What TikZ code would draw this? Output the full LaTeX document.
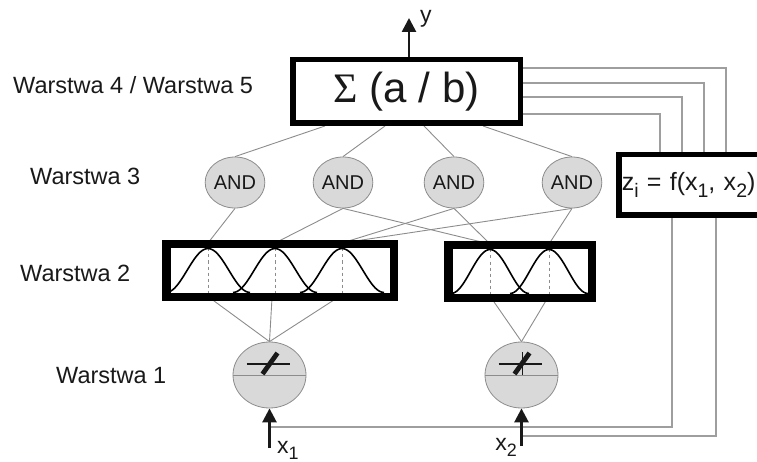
\documentclass[tikz,border=0pt]{standalone}
\usepackage{fontspec}
\usepackage{graphicx}
\setmainfont{Liberation Sans}
\newfontfamily\sigmafont{Liberation Serif}
\usetikzlibrary{shapes.geometric,arrows.meta}

\definecolor{wire}{gray}{0.55}
\definecolor{loopgray}{gray}{0.62}
\definecolor{cellfill}{gray}{0.85}
\definecolor{celledge}{gray}{0.55}
\definecolor{ink}{gray}{0.1}

\newcommand\lowsub[1]{\raisebox{-0.28em}{\scalebox{0.78}{#1}}}

\pgfdeclarelayer{bg}
\pgfsetlayers{bg,main}

\tikzset{
  wire/.style={draw=wire, line width=0.9pt},
  loopwire/.style={draw=loopgray, line width=1.2pt},
  heavybox/.style={rectangle, draw=black, line width=5.5pt, fill=white, inner sep=0pt},
  andcell/.style={ellipse, draw=celledge, fill=cellfill, line width=0.8pt,
    minimum width=57pt, minimum height=51pt, inner sep=0pt,
    font=\fontsize{20}{22}\selectfont},
  incell/.style={ellipse, draw=celledge, fill=cellfill, line width=0.8pt,
    minimum width=73pt, minimum height=66pt, inner sep=0pt},
  layerlab/.style={anchor=west, inner sep=0pt, font=\fontsize{23.5}{26}\selectfont},
  sigarrow/.style={-{Triangle[length=14pt,width=14pt]}, line width=2.6pt, draw=ink},
  mfcurve/.style={draw=black, line width=1.6pt},
  iolab/.style={inner sep=0pt, font=\fontsize{23}{25}\selectfont},
}

\begin{document}
\begin{tikzpicture}[x=1pt, y=-1pt, text=ink]
\clip (0,0) rectangle (757,462);

% layer names
\node[layerlab] (lab45) at (13,85) {Warstwa 4 / Warstwa 5};
\node[layerlab] (lab3) at (30,176) {Warstwa 3};
\node[layerlab] (lab2) at (20,273) {Warstwa 2};
\node[layerlab] (lab1) at (56,376) {Warstwa 1};

% layers 4/5 and the z box
\node[heavybox, minimum width=227.5pt, minimum height=63.5pt,
  font=\fontsize{42}{44}\selectfont] (sum) at (406.5,91.5) {{\sigmafont Σ} (a / b)};
\node[heavybox, anchor=west, minimum height=60.5pt, inner xsep=3pt,
  text width=140pt, align=left, font=\fontsize{25}{27}\selectfont] (zbox) at (616,185)
  {z\lowsub{i} = f(x\lowsub{1}, x\lowsub{2})};

% layer 3
\foreach \n/\x in {1/235,2/343,3/454,4/572}
  \node[andcell] (and\n) at (\x,182.5) {AND};

% layer 2
\node[heavybox, minimum width=224.5pt, minimum height=49.5pt] (mf1) at (280,270.5) {};
\node[heavybox, minimum width=140.5pt, minimum height=49.5pt] (mf2) at (520,271.5) {};
\foreach \c in {208,275,342} {
  \draw[wire, dashed] (\c,248.5) -- (\c,292.5);
  \draw[mfcurve] plot[domain=\c-42:\c+42, samples=40] (\x,{292.5-22*(1+cos(180*(\x-\c)/42))});
}
\foreach \c in {490,549} {
  \draw[wire, dashed] (\c,249.5) -- (\c,293.5);
  \draw[mfcurve] plot[domain=\c-39:\c+39, samples=40] (\x,{293.5-22*(1+cos(180*(\x-\c)/39))});
}
\draw[mfcurve, line width=5.5pt] (mf1.north west) rectangle (mf1.south east);
\draw[mfcurve, line width=5.5pt] (mf2.north west) rectangle (mf2.south east);

% layer 1
\node[incell] (in1) at (269.5,375) {};
\node[incell] (in2) at (521.5,375) {};
\foreach \n in {in1,in2} {
  \draw[celledge, line width=0.8pt] (\n.west) -- (\n.east);
  \draw[ink, line width=1.8pt] ([shift={(-23,-11)}]\n.center) -- ([shift={(20,-11)}]\n.center);
  \draw[ink, line width=4.8pt] ([shift={(-7,-1)}]\n.center) -- ([shift={(8,-22)}]\n.center);
}
\draw[ink, line width=0.8pt] ([shift={(1,-23)}]in2.center) -- ([shift={(1,0)}]in2.center);

% connections
\begin{pgfonlayer}{bg}
\draw[wire] (325,0 |- sum.south) -- (and1.north);
\draw[wire] (385,0 |- sum.south) -- (and2.north);
\draw[wire] (424,0 |- sum.south) -- (and3.north);
\draw[wire] (483,0 |- sum.south) -- (and4.north);
\draw[wire] (and1.south) -- (208,0 |- mf1.north);
\draw[wire] (and2.south) -- (275,0 |- mf1.north);
\draw[wire] (and2.south) -- (490,0 |- mf2.north);
\draw[wire] (and3.south) -- (342,0 |- mf1.north);
\draw[wire] (and3.south) -- (490,0 |- mf2.north);
\draw[wire] (and4.south) -- (342,0 |- mf1.north);
\draw[wire] (and4.south) -- (549,0 |- mf2.north);
\foreach \x in {210,272,337}
  \draw[wire] (\x,0 |- mf1.south) -- (in1.north);
\foreach \x in {492,547}
  \draw[wire] (\x,0 |- mf2.south) -- (in2.north);
% feedback to the z box
\foreach \y/\x in {68/726,83/704,97/682,114/660}
  \draw[loopwire] (sum.east |- 0,\y) -| (\x,0 |- zbox.north);
\draw[loopwire] (672,0 |- zbox.south) |- (in1.south |- 0,427);
\draw[loopwire] (716,0 |- zbox.south) |- (in2.south |- 0,436);
\end{pgfonlayer}

% inputs and output
\coordinate (x1in) at (in1.south |- 0,448);
\coordinate (x2in) at (in2.south |- 0,446);
\coordinate (yout) at (409,18);
\draw[sigarrow] (x1in) -- (in1.south);
\draw[sigarrow] (x2in) -- (in2.south);
\draw[sigarrow] (yout |- sum.north) -- (yout);
\node[iolab, anchor=base west] (x1lab) at (277,453) {x\lowsub{1}};
\node[iolab, anchor=base east] (x2lab) at (517,450) {x\lowsub{2}};
\node[iolab, anchor=base west] (ylab) at (420,23) {y};
\end{tikzpicture}
\end{document}
